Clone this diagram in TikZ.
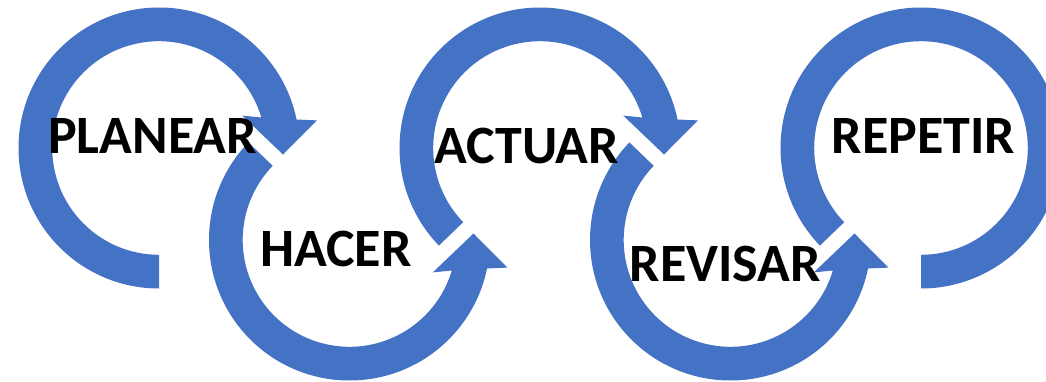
\documentclass[tikz,border=0pt]{standalone}
\usepackage{fontspec}
\setmainfont{Carlito}
\definecolor{ringblue}{HTML}{4472C4}
\tikzset{
  lbl/.style={font=\bfseries\fontsize{54}{54}\selectfont, text=black, inner sep=0pt, anchor=base},
  ringarrow/.pic={
    \fill[ringblue] (#1:140.5) arc[start angle=#1, end angle=11.7, radius=140.5]
      -- (158,27.6) -- (124,-6.5) -- (83.3,32.4) -- (16.6:106.8)
      arc[start angle=16.6, end angle=#1, radius=106.8] -- cycle;
  }
}
\begin{document}
\begin{tikzpicture}[x=1pt,y=1pt]
\useasboundingbox (0,0) rectangle (1046,381);
\clip (0,0) rectangle (1046,381);
% rings
\pic at (159,233) {ringarrow=270};
\pic[yscale=-1] at (349.5,141) {ringarrow=224};
\pic at (540,233) {ringarrow=224};
\pic[yscale=-1] at (730.5,141) {ringarrow=224};
\begin{scope}[shift={(921,233)}]
  \fill[ringblue] (224:140.5) arc[start angle=224, end angle=-90, radius=140.5]
    -- (-90:106.8) arc[start angle=-90, end angle=224, radius=106.8] -- cycle;
\end{scope}
% labels
\node[lbl] (planear) at (152.5,228) {PLANEAR};
\node[lbl] (hacer) at (335.8,114.3) {HACER};
\node[lbl] (actuar) at (526.7,217.7) {ACTUAR};
\node[lbl] (revisar) at (725.3,99.3) {REVISAR};
\node[lbl] (repetir) at (923.3,227.7) {REPETIR};
\end{tikzpicture}
\end{document}
